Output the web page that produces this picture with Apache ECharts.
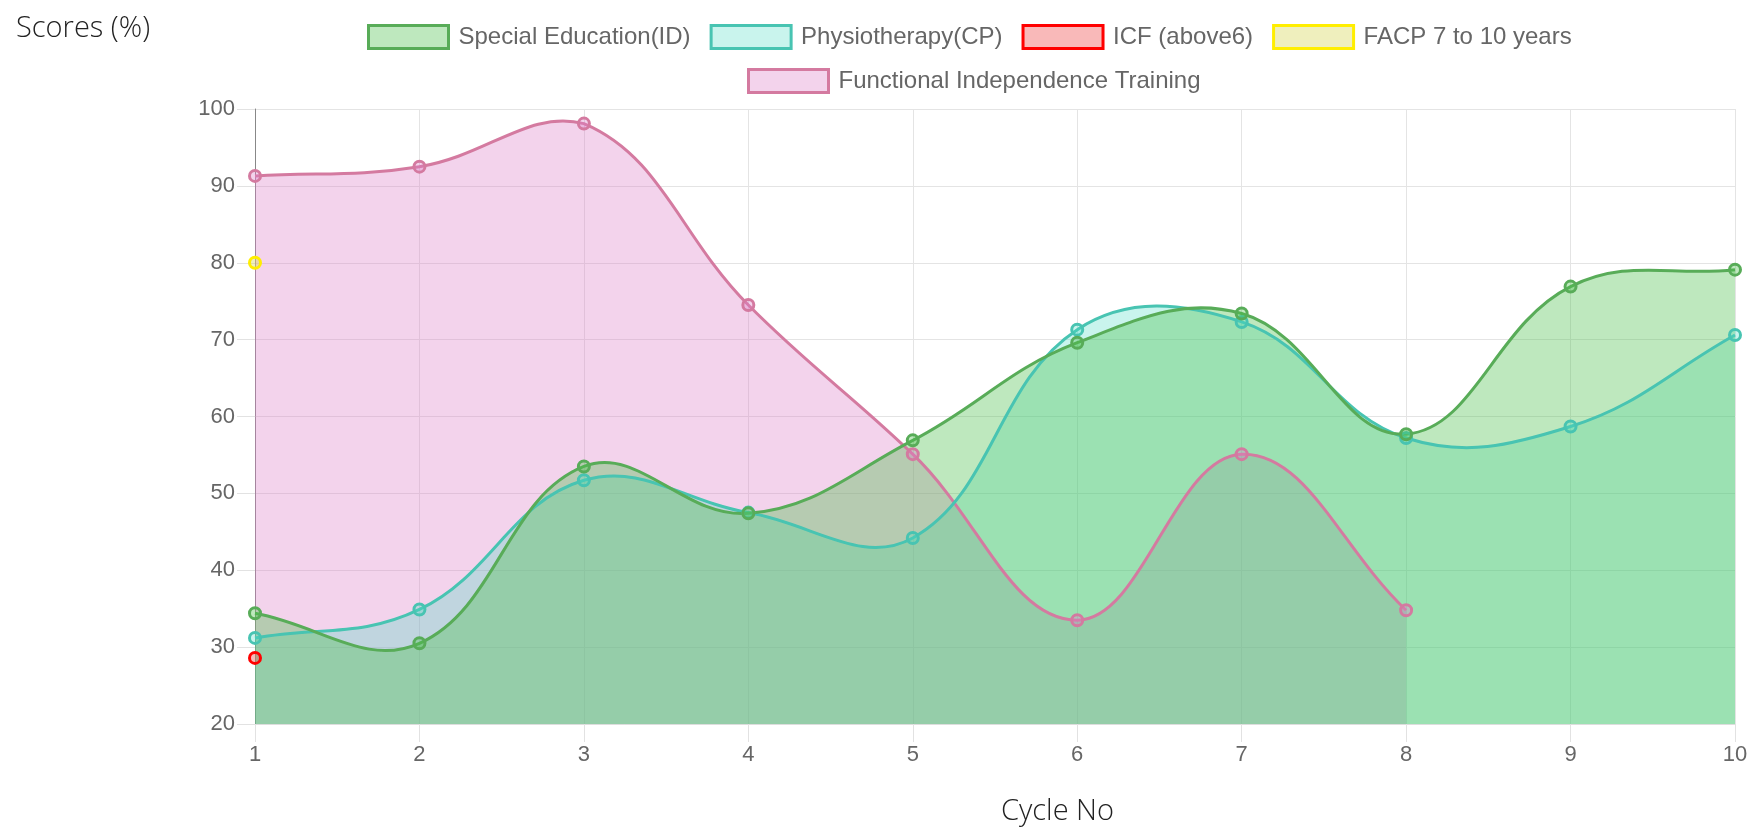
<!DOCTYPE html>
<html lang="en">

<head>
    <meta charset="UTF-8">
    <title>Scores by Cycle</title>
    <style>
        * {
            margin: 0;
            padding: 0;
        }

        body {
            background: #fff;
        }

        .box {
            width: 1758px;
            height: 835px;
        }
    </style>
</head>

<body>
    <div class="box"></div>

    <script src="https://cdn.jsdelivr.net/npm/echarts@6/dist/echarts.min.js"></script>
    <script>
        // cycle numbers on the x axis
        var cycles = ['1', '2', '3', '4', '5', '6', '7', '8', '9', '10'];

        // scores (%)
        var specialEdu = [34.4, 30.5, 53.5, 47.4, 56.9, 69.6, 73.4, 57.7, 76.9, 79.1];
        var physio = [31.2, 34.9, 51.7, 47.5, 44.2, 71.3, 72.3, 57.2, 58.7, 70.6];
        var icf = [28.6, null, null, null, null, null, null, null, null, null];
        var facp = [80, null, null, null, null, null, null, null, null, null];
        var fit = [91.3, 92.5, 98.1, 74.5, 55.1, 33.5, 55.1, 34.8, null, null];

        var names = ['Special Education(ID)', 'Physiotherapy(CP)', 'ICF (above6)', 'FACP 7 to 10 years',
            'Functional Independence Training'];
        var lines = ['rgb(88,172,88)', 'rgb(72,196,178)', 'rgb(255,0,0)', 'rgb(255,238,0)', 'rgb(212,122,160)'];
        var fills = ['rgba(75,192,75,0.36)', 'rgba(75,220,195,0.3)', 'rgba(240,80,80,0.4)',
            'rgba(215,215,90,0.4)', 'rgba(220,130,200,0.35)'];
        var allData = [specialEdu, physio, icf, facp, fit];
        var tension = 0.4;

        var myChart = echarts.init(document.querySelector('.box'));

        // spline control points the same way the original chart did (tension 0.4)
        function buildPaths(vals, api, box) {
            var bottom = api.coord([0, 20])[1];
            var runs = [], cur = [];
            vals.forEach(function (v, i) {
                if (v == null) {
                    if (cur.length) runs.push(cur);
                    cur = [];
                } else {
                    cur.push(api.coord([i, v]));
                }
            });
            if (cur.length) runs.push(cur);

            function cap(p) {
                return [Math.min(Math.max(p[0], box.x), box.x + box.width),
                Math.min(Math.max(p[1], box.y), box.y + box.height)];
            }

            var line = '', area = '';
            runs.forEach(function (pts) {
                if (pts.length < 2) return;
                var cps = pts.map(function (p, k) {
                    var prev = pts[k - 1] || p, next = pts[k + 1] || p;
                    var d01 = Math.hypot(p[0] - prev[0], p[1] - prev[1]);
                    var d12 = Math.hypot(next[0] - p[0], next[1] - p[1]);
                    var s01 = d01 / (d01 + d12) || 0, s12 = d12 / (d01 + d12) || 0;
                    var fa = tension * s01, fb = tension * s12;
                    return {
                        prev: cap([p[0] - fa * (next[0] - prev[0]), p[1] - fa * (next[1] - prev[1])]),
                        next: cap([p[0] + fb * (next[0] - prev[0]), p[1] + fb * (next[1] - prev[1])])
                    };
                });
                var seg = 'M' + pts[0][0] + ' ' + pts[0][1];
                for (var k = 1; k < pts.length; k++) {
                    seg += ' C' + cps[k - 1].next[0] + ' ' + cps[k - 1].next[1] + ' ' +
                        cps[k].prev[0] + ' ' + cps[k].prev[1] + ' ' + pts[k][0] + ' ' + pts[k][1];
                }
                line += seg + ' ';
                area += seg + ' L' + pts[pts.length - 1][0] + ' ' + bottom + ' L' + pts[0][0] + ' ' + bottom + ' Z ';
            });
            return { line: line, area: area };
        }

        function fillSeries(i) {
            return {
                name: names[i],
                type: 'custom',
                z: 2,
                silent: true,
                data: [[0, 20]],
                renderItem: function (params, api) {
                    var p = buildPaths(allData[i], api, params.coordSys);
                    if (!p.area) return null;
                    return {
                        type: 'path',
                        shape: { pathData: p.area },
                        style: { fill: fills[i], stroke: null }
                    };
                }
            };
        }

        function lineSeries(i) {
            return {
                name: names[i],
                type: 'custom',
                z: 3,
                silent: true,
                data: [[0, 20]],
                renderItem: function (params, api) {
                    var p = buildPaths(allData[i], api, params.coordSys);
                    if (!p.line) return null;
                    return {
                        type: 'path',
                        shape: { pathData: p.line },
                        style: { fill: null, stroke: lines[i], lineWidth: 3 }
                    };
                }
            };
        }

        function pointSeries(i) {
            var pts = [];
            allData[i].forEach(function (v, k) {
                if (v != null) pts.push([k, v]);
            });
            return {
                name: names[i],
                type: 'scatter',
                z: 4,
                symbol: 'circle',
                symbolSize: 11,
                data: pts,
                itemStyle: { color: fills[i], borderColor: lines[i], borderWidth: 3, opacity: 1 },
                emphasis: { disabled: true }
            };
        }

        function legendItem(i) {
            return {
                name: names[i],
                itemStyle: { color: fills[i], borderColor: lines[i], borderWidth: 3 }
            };
        }

        var legendBase = {
            icon: 'rect',
            itemWidth: 80,
            itemHeight: 23,
            itemGap: 19,
            textStyle: {
                fontFamily: 'Liberation Sans, Arial',
                fontSize: 24,
                color: '#666',
                padding: [0, 0, 0, 5]
            }
        };

        var series = [];
        // fills first (last dataset at the back), then lines, then points
        [4, 3, 2, 1, 0].forEach(function (i) { series.push(fillSeries(i)); });
        [4, 3, 2, 1, 0].forEach(function (i) { series.push(lineSeries(i)); });
        [4, 3, 2, 1, 0].forEach(function (i) { series.push(pointSeries(i)); });

        var option = {
            animation: false,
            legend: [
                Object.assign({}, legendBase, {
                    top: 19,
                    left: 362,
                    data: [legendItem(0), legendItem(1), legendItem(2), legendItem(3)]
                }),
                Object.assign({}, legendBase, {
                    top: 63,
                    left: 742,
                    data: [legendItem(4)]
                })
            ],
            grid: {
                left: 255,
                right: 23,
                top: 109,
                bottom: 111
            },
            xAxis: {
                type: 'category',
                boundaryGap: false,
                data: cycles,
                axisLine: { lineStyle: { color: '#ddd', width: 1 } },
                axisTick: { show: true, length: 18, lineStyle: { color: '#e2e2e2' } },
                axisLabel: {
                    margin: 20,
                    fontFamily: 'Liberation Sans, Arial',
                    fontSize: 22,
                    color: '#666'
                },
                splitLine: { show: true, lineStyle: { color: '#e4e4e4' } }
            },
            yAxis: {
                type: 'value',
                min: 20,
                max: 100,
                interval: 10,
                axisLine: { show: true, lineStyle: { color: '#888', width: 1 } },
                axisTick: { show: true, length: 18, lineStyle: { color: '#e2e2e2' } },
                axisLabel: {
                    margin: 20,
                    fontFamily: 'Liberation Sans, Arial',
                    fontSize: 22,
                    color: '#666'
                },
                splitLine: { show: true, lineStyle: { color: '#e4e4e4' } }
            },
            graphic: [
                {
                    type: 'text',
                    left: 16,
                    top: 14,
                    style: {
                        text: 'Scores (%)',
                        font: '300 29px "Open Sans", "Noto Sans", sans-serif',
                        fill: '#222'
                    }
                },
                {
                    type: 'text',
                    left: 1001,
                    top: 797,
                    style: {
                        text: 'Cycle No',
                        font: '300 29px "Open Sans", "Noto Sans", sans-serif',
                        fill: '#222'
                    }
                }
            ],
            series: series
        };

        myChart.setOption(option);
    </script>
</body>

</html>
